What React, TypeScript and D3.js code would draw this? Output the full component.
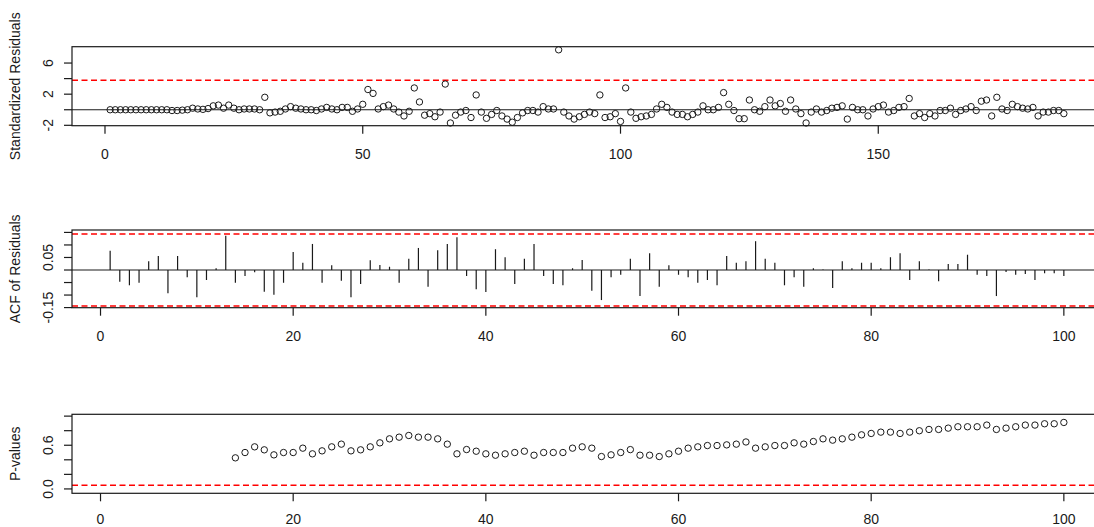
import React from "react";
import * as d3 from "d3";

// Standardized residuals, one per time point (t = 1..186)
const residuals: number[] = [
  0.0, 0.0, 0.0, 0.0, 0.0, 0.0, 0.0, 0.0, 0.0, 0.0,
  0.0, 0.0, -0.1, -0.1, -0.05, 0.0, 0.2, 0.1, 0.05, 0.15,
  0.5, 0.6, 0.2, 0.6, 0.2, 0.0, 0.1, 0.1, 0.1, 0.0,
  1.6, -0.4, -0.3, -0.2, 0.1, 0.4, 0.2, 0.1, 0.0, 0.0,
  -0.1, 0.1, 0.3, 0.1, 0.0, 0.3, 0.3, -0.2, 0.1, 0.7,
  2.6, 2.1, 0.1, 0.4, 0.6, 0.1, -0.3, -0.8, -0.2, 2.8,
  1.0, -0.7, -0.5, -0.9, -0.3, 3.3, -1.7, -0.7, -0.3, -0.1,
  -1.0, 1.9, -0.3, -1.1, -0.6, -0.1, -0.8, -1.2, -1.6, -1.0,
  -0.4, -0.1, -0.1, -0.3, 0.4, 0.1, 0.1, 7.7, -0.3, -0.8,
  -1.2, -0.9, -0.6, -0.3, -0.5, 1.9, -1.0, -0.9, -0.5, -1.5,
  2.8, -0.3, -1.1, -0.9, -0.8, -0.6, 0.1, 0.7, 0.3, -0.3,
  -0.6, -0.6, -0.9, -0.6, -0.3, 0.5, 0.0, 0.0, 0.3, 2.2,
  0.7, -0.1, -1.15, -1.15, 1.25, 0.0, -0.2, 0.4, 1.25, 0.5,
  0.8, -0.2, 1.25, 0.1, -0.5, -1.7, -0.3, 0.1, -0.3, -0.1,
  0.2, 0.3, 0.5, -1.2, 0.3, 0.0, 0.0, -0.8, 0.1, 0.4,
  0.6, -0.3, -0.1, 0.3, 0.4, 1.45, -0.8, -0.5, -1.0, -0.5,
  -0.8, -0.1, -0.1, 0.2, -0.6, -0.1, 0.1, 0.4, -0.1, 1.1,
  1.25, -0.8, 1.6, 0.1, -0.1, 0.7, 0.4, 0.2, 0.1, 0.3,
  -0.8, -0.3, -0.3, -0.1, -0.1, -0.5,
];

// Autocorrelation of the residuals at lags 1..100
const acfValues: number[] = [
  0.077, -0.047, -0.061, -0.051, 0.035, 0.056, -0.093, 0.056, -0.029, -0.109,
  -0.04, 0.007, 0.137, -0.051, -0.024, -0.009, -0.087, -0.099, -0.051, 0.072,
  0.029, 0.104, -0.051, 0.019, -0.043, -0.109, -0.056, 0.039, 0.02, 0.013,
  -0.051, 0.045, 0.088, -0.067, 0.079, 0.104, 0.131, -0.024, -0.077, -0.088,
  0.083, 0.051, -0.056, 0.045, 0.104, -0.024, -0.056, -0.061, 0.007, 0.04,
  -0.083, -0.12, -0.029, -0.019, 0.045, -0.104, 0.067, -0.067, 0.019, -0.019,
  -0.029, -0.051, -0.04, -0.061, 0.056, 0.029, 0.035, 0.115, 0.045, 0.029,
  -0.061, -0.029, -0.067, 0.007, 0.002, -0.072, 0.035, 0.007, 0.029, 0.029,
  0.007, 0.051, 0.067, -0.04, 0.035, 0.002, -0.045, 0.024, 0.024, 0.061,
  -0.019, -0.024, -0.104, -0.008, -0.019, -0.016, -0.04, -0.013, -0.013, -0.024,
];

// Ljung-Box p-values, first lag tested is 14
const pStartLag = 14;
const pValues: number[] = [
  0.427, 0.5, 0.578, 0.537, 0.468, 0.5, 0.5, 0.56, 0.482, 0.523,
  0.578, 0.615, 0.523, 0.537, 0.578, 0.633, 0.688, 0.711, 0.734, 0.711,
  0.711, 0.688, 0.615, 0.482, 0.541, 0.518, 0.482, 0.463, 0.482, 0.5,
  0.518, 0.463, 0.5, 0.5, 0.5, 0.56, 0.578, 0.56, 0.445, 0.468,
  0.5, 0.54, 0.463, 0.463, 0.445, 0.482, 0.518, 0.56, 0.578, 0.596,
  0.596, 0.605, 0.615, 0.645, 0.56, 0.578, 0.596, 0.596, 0.633, 0.615,
  0.651, 0.688, 0.67, 0.688, 0.711, 0.743, 0.762, 0.78, 0.78, 0.762,
  0.78, 0.799, 0.817, 0.817, 0.835, 0.854, 0.854, 0.854, 0.877, 0.817,
  0.835, 0.854, 0.877, 0.877, 0.895, 0.895, 0.913,
];

// Reference lines
const residLimit = 3.8;
const acfBound = 1.96 / Math.sqrt(residuals.length);
const pLevel = 0.05;

// Axis ticks and labels
const residTicks = [-2, 0, 2, 4, 6];
const residTickLabels = ["-2", "", "2", "", "6"];
const residXTicks = [0, 50, 100, 150];
const acfTicks = [-0.15, -0.1, -0.05, 0, 0.05, 0.1, 0.15];
const acfTickLabels = ["-0.15", "", "", "", "0.05", "", ""];
const lagTicks = [0, 20, 40, 60, 80, 100];
const pTicks = [0, 0.2, 0.4, 0.6, 0.8, 1.0];
const pTickLabels = ["0.0", "", "", "0.6", "", ""];

const W = 1094;
const H = 527;
const PLOT_L = 72;
const PLOT_R = 1102;
const FONT = "'Liberation Sans', Arial, Helvetica, sans-serif";
const INK = "#1a1a1a";

type PanelProps = {
  top: number;
  bottom: number;
  x: d3.ScaleLinear<number, number>;
  y: d3.ScaleLinear<number, number>;
  xTicks: number[];
  yTicks: number[];
  yLabels: string[];
  title: string;
  labelGap?: number;
  children: React.ReactNode;
};

function Panel({ top, bottom, x, y, xTicks, yTicks, yLabels, title, labelGap = 33, children }: PanelProps) {
  const mid = (top + bottom) / 2;
  return (
    <g>
      {children}
      <rect
        x={PLOT_L}
        y={top}
        width={PLOT_R - PLOT_L}
        height={bottom - top}
        fill="none"
        stroke={INK}
        strokeWidth={1.2}
      />
      {xTicks.map((t) => (
        <g key={"x" + t}>
          <line x1={x(t)} x2={x(t)} y1={bottom} y2={bottom + 8} stroke={INK} strokeWidth={1.2} />
          <text
            x={x(t)}
            y={bottom + labelGap}
            textAnchor="middle"
            fontSize={14}
            fontFamily={FONT}
            fill={INK}
          >
            {t}
          </text>
        </g>
      ))}
      {yTicks.map((t, i) => (
        <g key={"y" + t}>
          <line x1={PLOT_L - 8} x2={PLOT_L} y1={y(t)} y2={y(t)} stroke={INK} strokeWidth={1.2} />
          {yLabels[i] ? (
            <text
              transform={`translate(${PLOT_L - 19},${y(t)}) rotate(-90)`}
              textAnchor="middle"
              fontSize={14}
              fontFamily={FONT}
              fill={INK}
            >
              {yLabels[i]}
            </text>
          ) : null}
        </g>
      ))}
      <text
        transform={`translate(20,${mid}) rotate(-90)`}
        textAnchor="middle"
        fontSize={14}
        fontFamily={FONT}
        fill={INK}
      >
        {title}
      </text>
    </g>
  );
}

export default function App() {
  // Standardized residuals panel
  const r = { top: 46.7, bottom: 125.7 };
  const n = residuals.length;
  const rPad = 0.04 * (n - 1);
  const xR = d3.scaleLinear().domain([1 - rPad, n + rPad]).range([PLOT_L, PLOT_R]);
  const yR = d3.scaleLinear().domain([-2.05, 8.1]).range([r.bottom, r.top]);

  // ACF panel
  const a = { top: 230, bottom: 307.7 };
  const lagPad = 0.04 * (acfValues.length - 1);
  const xLag = d3.scaleLinear().domain([1 - lagPad, acfValues.length + lagPad]).range([PLOT_L, PLOT_R]);
  const yA = d3.scaleLinear().domain([-0.1505, 0.1597]).range([a.bottom, a.top]);

  // P-value panel
  const p = { top: 414.3, bottom: 493.3 };
  const yP = d3.scaleLinear().domain([-0.06, 1.025]).range([p.bottom, p.top]);

  const dash = "6,3.5";

  return (
    <svg
      width={W}
      height={H}
      style={{ position: "absolute", left: 0, top: 0, background: "#fff" }}
    >
      <rect x={0} y={0} width={W} height={H} fill="#fff" />

      <Panel top={r.top} bottom={r.bottom} x={xR} y={yR} xTicks={residXTicks}
        yTicks={residTicks} yLabels={residTickLabels} title="Standardized Residuals">
        <line x1={PLOT_L} x2={PLOT_R} y1={yR(0)} y2={yR(0)} stroke={INK} strokeWidth={1.2} />
        <line x1={PLOT_L} x2={PLOT_R} y1={yR(residLimit)} y2={yR(residLimit)}
          stroke="#ff0000" strokeWidth={1.5} strokeDasharray={dash} />
        {residuals.map((v, i) => (
          <circle key={i} cx={xR(i + 1)} cy={yR(v)} r={3.2} fill="none" stroke={INK} strokeWidth={1} />
        ))}
      </Panel>

      <Panel top={a.top} bottom={a.bottom} x={xLag} y={yA} xTicks={lagTicks}
        yTicks={acfTicks} yLabels={acfTickLabels} title="ACF of Residuals">
        <line x1={PLOT_L} x2={PLOT_R} y1={yA(0)} y2={yA(0)} stroke={INK} strokeWidth={1.2} />
        {[acfBound, -acfBound].map((b) => (
          <line key={b} x1={PLOT_L} x2={PLOT_R} y1={yA(b)} y2={yA(b)}
            stroke="#ff0000" strokeWidth={1.5} strokeDasharray={dash} />
        ))}
        {acfValues.map((v, i) => (
          <line key={i} x1={xLag(i + 1)} x2={xLag(i + 1)} y1={yA(0)} y2={yA(v)}
            stroke={INK} strokeWidth={1.2} />
        ))}
      </Panel>

      <Panel top={p.top} bottom={p.bottom} x={xLag} y={yP} xTicks={lagTicks}
        yTicks={pTicks} yLabels={pTickLabels} title="P-values" labelGap={30.5}>
        <line x1={PLOT_L} x2={PLOT_R} y1={yP(pLevel)} y2={yP(pLevel)}
          stroke="#ff0000" strokeWidth={1.5} strokeDasharray={dash} />
        {pValues.map((v, i) => (
          <circle key={i} cx={xLag(pStartLag + i)} cy={yP(v)} r={3.2} fill="none" stroke={INK} strokeWidth={1} />
        ))}
      </Panel>
    </svg>
  );
}
